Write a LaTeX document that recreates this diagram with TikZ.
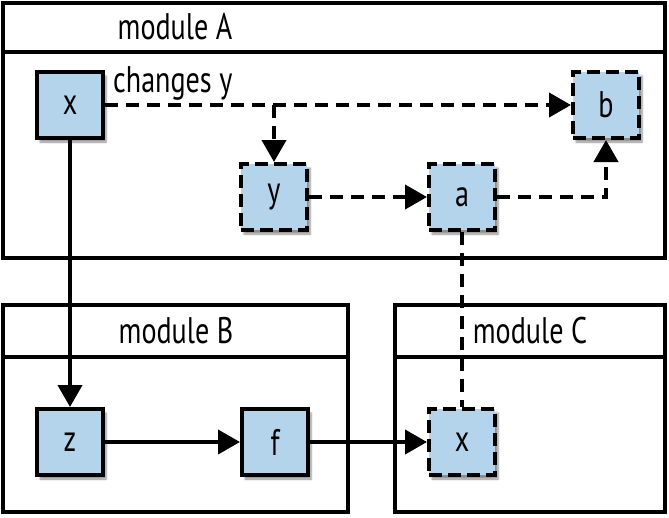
\documentclass[tikz,border=0pt]{standalone}
\usepackage{fontspec}
\setmainfont{PT Sans}[FakeStretch=0.76]
\usetikzlibrary{arrows.meta,shadows.blur,calc}
\definecolor{boxblue}{HTML}{B3D4EA}
\begin{document}
\begin{tikzpicture}[x=1pt,y=-1pt,
  mod/.style={draw, line width=4pt},
  var/.style={draw, line width=4pt, fill=boxblue, minimum size=66pt, inner sep=0pt,
    font=\fontsize{37}{40}\selectfont,
    blur shadow={shadow xshift=3pt,shadow yshift=-4pt,shadow blur steps=6,shadow opacity=45}},
  dvar/.style={var, dash pattern=on 13pt off 6pt},
  arr/.style={line width=4pt, -{Triangle[length=22pt,width=24pt]}},
  darr/.style={arr, dash pattern=on 13pt off 8pt},
  dline/.style={line width=4pt, dash pattern=on 13pt off 8pt},
  lbl/.style={font=\fontsize{37}{40}\selectfont, inner sep=0pt}
]
\useasboundingbox (0,0) rectangle (669,517);
% modules
\draw[mod] (3,3) rectangle (665,258);
\draw[mod] (3,52) -- (665,52);
\draw[mod] (3,305) rectangle (348,512);
\draw[mod] (3,357) -- (348,357);
\draw[mod] (395,305) rectangle (665,512);
\draw[mod] (395,357) -- (665,357);
\node[lbl] (labA) at (175,27) {module A};
\node[lbl] (labB) at (176,331) {module B};
\node[lbl] (labC) at (530,331) {module C};
% variables
\node[var]  (xA) at (70,105) {x};
\node[dvar] (b)  at (606,105) {b};
\node[dvar] (y)  at (274,197) {y};
\node[dvar] (a)  at (462,197) {a};
\node[var]  (z)  at (70,442) {z};
\node[var]  (f)  at (275,442) {f};
\node[dvar] (xC) at (462,442) {x};
\node[lbl, anchor=west] (chg) at (113,83) {changes y};
% connectors
\draw[darr] (xA.east) -- (b.west);
\draw[darr] (xA.east -| y.north) -- (y.north);
\draw[darr] (y.east) -- (a.west);
\draw[darr] (a.east) -| (b.south);
\draw[dline] (a.south) -- (xC.north);
\draw[arr] (xA.south) -- (z.north);
\draw[arr] (z.east) -- (f.west);
\draw[arr] (f.east) -- (xC.west);
\end{tikzpicture}
\end{document}
